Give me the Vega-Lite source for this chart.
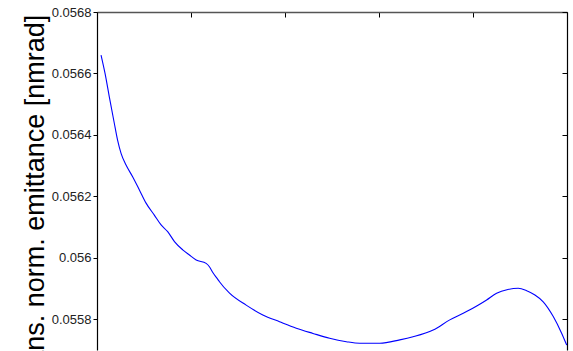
{
  "$schema": "https://vega.github.io/schema/vega-lite/v6.json",
  "autosize": {"type": "none"},
  "padding": {"left": 97, "top": 12, "right": 6, "bottom": 1},
  "width": 470,
  "height": 338,
  "background": "white",
  "config": {
    "view": {"stroke": null},
    "font": "Liberation Sans"
  },
  "data": {
    "values": [
      {"t": 0.043, "emit": 0.056660},
      {"t": 0.085, "emit": 0.056601},
      {"t": 0.131, "emit": 0.056524},
      {"t": 0.184, "emit": 0.056438},
      {"t": 0.219, "emit": 0.056383},
      {"t": 0.256, "emit": 0.056340},
      {"t": 0.309, "emit": 0.056302},
      {"t": 0.379, "emit": 0.056264},
      {"t": 0.451, "emit": 0.056221},
      {"t": 0.522, "emit": 0.056178},
      {"t": 0.610, "emit": 0.056139},
      {"t": 0.682, "emit": 0.056107},
      {"t": 0.752, "emit": 0.056085},
      {"t": 0.824, "emit": 0.056053},
      {"t": 0.912, "emit": 0.056026},
      {"t": 0.983, "emit": 0.056009},
      {"t": 1.055, "emit": 0.055993},
      {"t": 1.161, "emit": 0.055982},
      {"t": 1.196, "emit": 0.055971},
      {"t": 1.232, "emit": 0.055952},
      {"t": 1.285, "emit": 0.055930},
      {"t": 1.303, "emit": 0.055922},
      {"t": 1.410, "emit": 0.055885},
      {"t": 1.587, "emit": 0.055846},
      {"t": 1.764, "emit": 0.055814},
      {"t": 1.942, "emit": 0.055792},
      {"t": 2.120, "emit": 0.055771},
      {"t": 2.297, "emit": 0.055754},
      {"t": 2.475, "emit": 0.055738},
      {"t": 2.653, "emit": 0.055727},
      {"t": 2.795, "emit": 0.055722},
      {"t": 3.008, "emit": 0.055722},
      {"t": 3.221, "emit": 0.055733},
      {"t": 3.362, "emit": 0.055743},
      {"t": 3.576, "emit": 0.055765},
      {"t": 3.753, "emit": 0.055798},
      {"t": 3.931, "emit": 0.055825},
      {"t": 4.145, "emit": 0.055863},
      {"t": 4.251, "emit": 0.055885},
      {"t": 4.371, "emit": 0.055897},
      {"t": 4.481, "emit": 0.055901},
      {"t": 4.571, "emit": 0.055893},
      {"t": 4.659, "emit": 0.055879},
      {"t": 4.747, "emit": 0.055857},
      {"t": 4.854, "emit": 0.055809},
      {"t": 4.944, "emit": 0.055754},
      {"t": 4.997, "emit": 0.055716}
    ]
  },
  "resolve": {"axis": {"x": "independent", "y": "independent"}},
  "layer": [
    {
      "mark": {"type": "line", "color": "#0000ff", "strokeWidth": 1.1, "interpolate": "monotone", "clip": true},
      "encoding": {
        "x": {
          "field": "t", "type": "quantitative",
          "scale": {"domain": [0, 5], "nice": false, "zero": false},
          "axis": null
        },
        "y": {
          "field": "emit", "type": "quantitative",
          "scale": {"domain": [0.0557, 0.0568], "nice": false, "zero": false},
          "axis": {
            "orient": "left",
            "values": [0.0558, 0.056, 0.0562, 0.0564, 0.0566, 0.0568],
            "format": ".4~f",
            "grid": false,
            "domainColor": "#000000",
            "domainWidth": 1.2,
            "tickColor": "#000000",
            "tickSize": 4,
            "labelPadding": 2,
            "labelFontSize": 13,
            "labelColor": "#222222",
            "labelFont": "Liberation Sans",
            "title": "Trans. norm. emittance [nmrad]",
            "titleFont": "Liberation Sans",
            "titleFontSize": 27,
            "titleFontWeight": "normal",
            "titleColor": "#000000",
            "titleAngle": -90,
            "titleAlign": "center",
            "titleBaseline": "alphabetic",
            "titleX": -54,
            "titleY": 190
          }
        }
      }
    },
    {
      "mark": {"type": "line", "opacity": 0},
      "encoding": {
        "x": {
          "field": "t", "type": "quantitative",
          "axis": {
            "orient": "top",
            "values": [0, 1, 2, 3, 4, 5],
            "labels": false,
            "title": null,
            "grid": false,
            "domainColor": "#555555",
            "domainWidth": 1.5,
            "tickColor": "#000000",
            "tickSize": -5
          }
        },
        "y": {
          "field": "emit", "type": "quantitative",
          "axis": {
            "orient": "right",
            "values": [0.0558, 0.056, 0.0562, 0.0564, 0.0566, 0.0568],
            "labels": false,
            "title": null,
            "grid": false,
            "domainColor": "#000000",
            "domainWidth": 1.2,
            "tickColor": "#000000",
            "tickSize": -5
          }
        }
      }
    }
  ]
}
